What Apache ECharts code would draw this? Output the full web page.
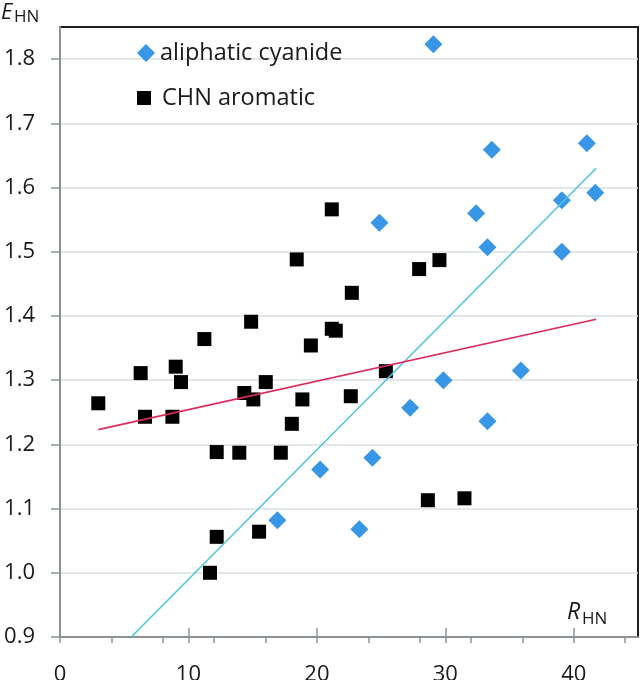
<!DOCTYPE html>
<html>
<head>
<meta charset="utf-8">
<script src="https://cdn.jsdelivr.net/npm/echarts@6/dist/echarts.min.js"></script>
<style>html,body{margin:0;padding:0;background:#fff;}#c{width:640px;height:680px;}</style>
</head>
<body>
<div id="c"></div>
<script>
// ---- data ----
const cyanideX = [29.07, 33.62, 41.02, 41.67, 39.07, 32.40, 24.87, 33.28, 39.07, 35.88, 29.85, 27.26, 33.28, 24.32, 20.25, 16.92, 23.31];
const cyanideY = [1.823, 1.659, 1.669, 1.592, 1.580, 1.560, 1.545, 1.507, 1.500, 1.315, 1.300, 1.257, 1.236, 1.179, 1.161, 1.082, 1.068];
const aromaticX = [2.98, 6.28, 6.62, 9.01, 9.42, 8.75, 11.24, 14.88, 14.35, 15.05, 16.02, 18.43, 19.53, 18.87, 18.05, 12.20, 13.96, 17.19, 12.20, 11.68, 15.50, 21.16, 21.16, 21.47, 22.72, 22.64, 25.37, 27.96, 29.54, 28.64, 31.49];
const aromaticY = [1.264, 1.311, 1.243, 1.321, 1.297, 1.243, 1.364, 1.391, 1.280, 1.270, 1.297, 1.488, 1.354, 1.270, 1.232, 1.188, 1.187, 1.187, 1.056, 1.000, 1.064, 1.566, 1.380, 1.377, 1.436, 1.275, 1.314, 1.473, 1.487, 1.113, 1.116];
// trendline end points
const cyanideTrendX = [5.55, 41.74];
const cyanideTrendY = [0.900, 1.630];
const aromaticTrendX = [2.98, 41.74];
const aromaticTrendY = [1.223, 1.395];
// ticks
const xLabelValues = [0, 10, 20, 30, 40];
const xTickValues = [0, 4, 8, 10, 12, 16, 20, 24, 28, 30, 32, 36, 40, 44];
const yTickValues = [0.9, 1.0, 1.1, 1.2, 1.3, 1.4, 1.5, 1.6, 1.7, 1.8];
const seriesNames = ['aliphatic cyanide', 'CHN aromatic'];

const zip = (xs, ys) => xs.map((x, i) => [x, ys[i]]);
const FONT = 'Open Sans';
const AXIS = '#8c9296';

const chart = echarts.init(document.getElementById('c'), null, {renderer: 'canvas'});
chart.setOption({
  animation: false,
  backgroundColor: '#fff',
  grid: {left: 60, right: 2, top: 27, bottom: 43, containLabel: false, outerBoundsMode: 'none',
    show: true, borderColor: '#1e1e1e', borderWidth: 2, backgroundColor: 'transparent'},
  legend: [
    {data: [seriesNames[0]], left: 137, top: 41, padding: 0, itemWidth: 18, itemHeight: 18,
     textStyle: {fontFamily: FONT, fontSize: 23.5, color: '#1a1a1a'}},
    {data: [seriesNames[1]], left: 137, top: 86, padding: 0, itemWidth: 14, itemHeight: 14,
     textStyle: {fontFamily: FONT, fontSize: 23.5, color: '#1a1a1a', padding: [0, 0, 0, 6]}}
  ],
  xAxis: [
    {type: 'value', min: 0, max: 45, position: 'bottom',
     axisLine: {show: true, onZero: false, lineStyle: {color: AXIS, width: 2}},
     axisTick: {show: true, inside: true, length: 9, customValues: xLabelValues, lineStyle: {color: AXIS, width: 1.5}},
     axisLabel: {show: true, customValues: xLabelValues, margin: 27, fontFamily: FONT, fontSize: 22, color: '#1a1a1a'},
     splitLine: {show: false}},
    {type: 'value', min: 0, max: 45, position: 'bottom', offset: 0,
     axisLine: {show: false},
     axisTick: {show: true, inside: false, length: 6, customValues: xTickValues, lineStyle: {color: AXIS, width: 1.5}},
     axisLabel: {show: false},
     splitLine: {show: false}}
  ],
  yAxis: {type: 'value', min: 0.9, max: 1.85,
    axisLine: {show: true, onZero: false, lineStyle: {color: AXIS, width: 2}},
    axisTick: {show: true, inside: false, length: 9, customValues: yTickValues, lineStyle: {color: AXIS, width: 1.5}},
    axisLabel: {show: true, customValues: yTickValues, margin: 25, fontFamily: FONT, fontSize: 22, color: '#1a1a1a',
      formatter: v => v.toFixed(1)},
    splitLine: {show: true, lineStyle: {color: '#d8dfe2', width: 1.5}}
  },
  series: [
    {name: seriesNames[0], type: 'scatter', symbol: 'diamond', symbolSize: 18, data: zip(cyanideX, cyanideY),
     itemStyle: {color: '#3797e6', opacity: 1}, z: 3},
    {name: seriesNames[1], type: 'scatter', symbol: 'rect', symbolSize: 14, data: zip(aromaticX, aromaticY),
     itemStyle: {color: '#000', opacity: 1}, z: 4},
    {name: 'cyanide trend', type: 'line', data: zip(cyanideTrendX, cyanideTrendY), showSymbol: false, symbol: 'none',
     lineStyle: {color: '#52c4de', width: 1.6}, silent: true, z: 5},
    {name: 'aromatic trend', type: 'line', data: zip(aromaticTrendX, aromaticTrendY), showSymbol: false, symbol: 'none',
     lineStyle: {color: '#dc2b5c', width: 1.6}, silent: true, z: 5}
  ],
  graphic: [
    {type: 'text', left: 1, top: 2, style: {text: 'E', font: 'italic 22px "Open Sans"', fill: '#1a1a1a'}},
    {type: 'text', left: 14, top: 9, style: {text: 'HN', font: '17px "Open Sans"', fill: '#1a1a1a'}},
    {type: 'text', left: 567, top: 601, style: {text: 'R', font: 'italic 23px "Open Sans"', fill: '#1a1a1a'}},
    {type: 'text', left: 582, top: 611, style: {text: 'HN', font: '17px "Open Sans"', fill: '#1a1a1a'}}
  ]
});
</script>
</body>
</html>
